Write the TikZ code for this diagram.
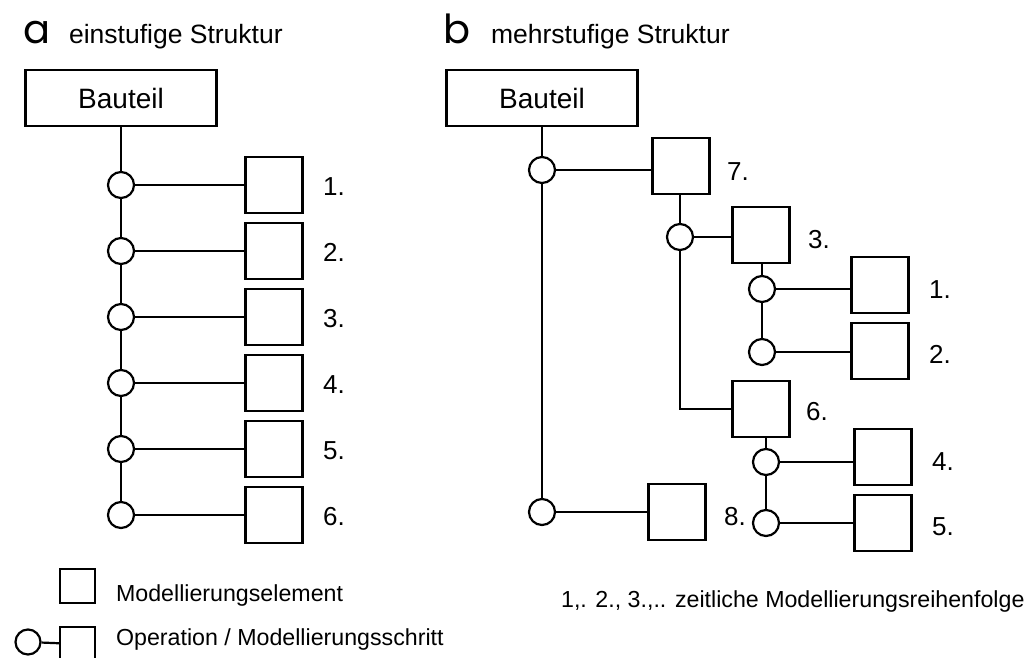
\documentclass[tikz,border=0pt]{standalone}
\usepackage{fontspec}
\setmainfont{Liberation Sans}
\newfontfamily\tagfont{Poppins}
\usetikzlibrary{positioning}
\tikzset{elem/.style = {draw, rectangle, inner sep = 0, minimum width = 57, minimum height = 56}}
\tikzset{smallelem/.style = {elem, minimum width = 35, minimum height = 34}}
\tikzset{op/.style = {draw, circle, fill = white, inner sep = 0, minimum size = 26}}
\tikzset{part/.style = {draw, rectangle, minimum width = 191, minimum height = 56,
                        font = \fontsize{28}{30}\selectfont}}
\tikzset{num/.style = {anchor = base west, inner sep = 0, font = \fontsize{26}{29}\selectfont}}
\tikzset{tag/.style = {anchor = base west, inner sep = 0, font = \tagfont\fontsize{40}{44}\selectfont}}
\tikzset{heading/.style = {anchor = base west, inner sep = 0, font = \fontsize{26.5}{29}\selectfont}}
\tikzset{legend/.style = {anchor = base west, inner sep = 0, font = \fontsize{23.2}{26}\selectfont}}

\begin{document}
\begin{tikzpicture}[x=1pt, y=-1pt, line width=2.2pt]
      \useasboundingbox (0,0) rectangle (1031,657);

      \node[tag] (taga) at (22,43) {a};
      \node[heading] (titlea) at (68,43) {einstufige Struktur};
      \node[part] (parta) at (121,98) {Bauteil};
      \foreach \i/\y in {1/185,2/251,3/317,4/383,5/449,6/515} {
        \node[op] (oa\i) at (121,\y) {};
        \node[elem] (ea\i) at (274,\y) {};
        \draw (oa\i) -- (ea\i);
        \node[num] (na\i) at (322,\y+10) {\i.};
      }
      \draw (parta) -- (oa1);
      \foreach \i [count=\j from 2] in {1,...,5}
        \draw (oa\i) -- (oa\j);

      \node[tag] (tagb) at (442,43) {b};
      \node[heading] (titleb) at (490,43) {mehrstufige Struktur};
      \node[part] (partb) at (542,98) {Bauteil};
      \node[op] (ob7) at (542,170) {};
      \node[op] (ob8) at (542,512) {};
      \node[elem] (e7) at (681,166) {};
      \node[elem] (e8) at (677,512) {};
      \node[op] (ob3) at (680,237) {};
      \coordinate (k6) at (680,409);
      \node[elem] (e3) at (761,235) {};
      \node[elem] (e6) at (761,409) {};
      \node[op] (ob1) at (762,289) {};
      \node[op] (ob2) at (762,352) {};
      \node[elem] (e1) at (880,285) {};
      \node[elem] (e2) at (880,351) {};
      \node[op] (ob4) at (766,462) {};
      \node[op] (ob5) at (766,523) {};
      \node[elem] (e4) at (883,457) {};
      \node[elem] (e5) at (883,523) {};

      \draw (partb) -- (ob7) -- (ob8);
      \draw (ob7) -- (ob7 -| e7.west);
      \draw (ob8) -- (e8);
      \draw (e7.south -| ob3) -- (ob3) -- (k6) -- (e6);
      \draw (ob3) -- (ob3 -| e3.west);
      \draw (ob1 |- e3.south) -- (ob1) -- (ob2);
      \draw (ob1) -- (ob1 -| e1.west);
      \draw (ob2) -- (ob2 -| e2.west);
      \draw (ob4 |- e6.south) -- (ob4) -- (ob5);
      \draw (ob4) -- (ob4 -| e4.west);
      \draw (ob5) -- (ob5 -| e5.west);

      \node[num] (n7) at (726,180) {7.};
      \node[num] (n3) at (807,248) {3.};
      \node[num] (n1) at (928,298) {1.};
      \node[num] (n2) at (928,363) {2.};
      \node[num] (n6) at (805,420) {6.};
      \node[num] (n4) at (931,470) {4.};
      \node[num] (n5) at (931,535) {5.};
      \node[num] (n8) at (723,525) {8.};

      \node[smallelem] (lgelem) at (77.5,586) {};
      \node[legend] (lgtext1) at (115,601) {Modellierungselement};
      \node[op, minimum size = 25] (lgop) at (28,642) {};
      \node[smallelem] (lgstep) at (77.5,644) {};
      \draw (lgop) -- (lgstep);
      \node[legend] (lgtext2) at (115,645) {Operation / Modellierungsschritt};
      \node[legend] (lgtext3) at (560,607) {1,. 2., 3.,.. zeitliche Modellierungsreihenfolge};
    \end{tikzpicture}
\end{document}
